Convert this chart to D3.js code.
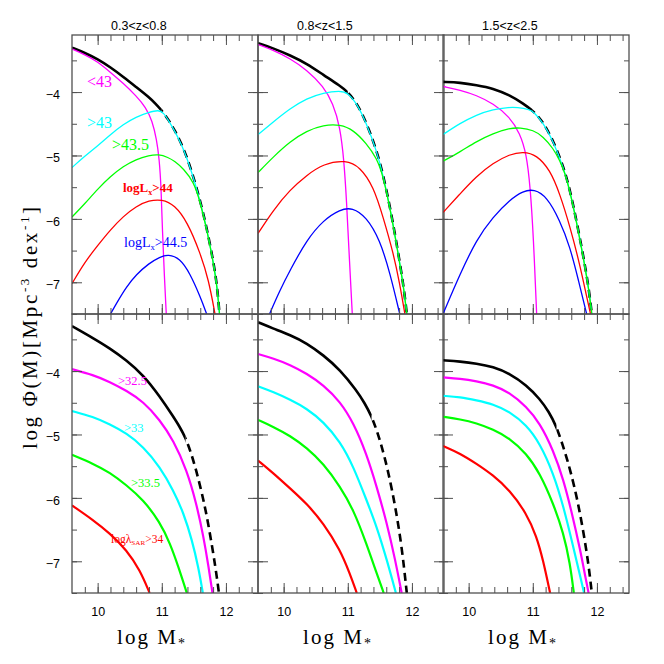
<!DOCTYPE html>
<html><head><meta charset="utf-8">
<script src="https://cdn.jsdelivr.net/npm/d3@7"></script>
<style>body{margin:0;background:#fff}</style></head>
<body><svg id="c" width="664" height="664"></svg>
<script>
// ---------- labels ----------
const zBins = ["0.3<z<0.8", "0.8<z<1.5", "1.5<z<2.5"];
const xTickLabels = [10, 11, 12];
const yTickLabels = [-4, -5, -6, -7];
const xDomain = [9.6, 12.5];
const yDomain = [-7.5, -3.1];

// ---------- top row: X-ray luminosity cuts ----------
const lxTot_z1 = [[9.6,-3.30],[9.8,-3.38],[10.0,-3.48],[10.2,-3.61],[10.4,-3.76],[10.6,-3.92],[10.8,-4.08],[10.9,-4.18],[11.0,-4.29],[11.1,-4.43],[11.2,-4.60],[11.3,-4.80],[11.4,-5.05],[11.5,-5.36],[11.6,-5.72],[11.7,-6.14],[11.8,-6.65],[11.86,-7.03],[11.9,-7.5]];
const lxLt43_z1 = [[9.6,-3.32],[9.8,-3.41],[10.0,-3.52],[10.2,-3.69],[10.4,-3.86],[10.6,-4.06],[10.75,-4.24],[10.85,-4.45],[10.92,-4.75],[10.96,-5.05],[10.99,-5.5],[11.01,-6.2],[11.04,-6.9],[11.07,-7.5]];
const lxGt43_z1 = [[9.6,-5.19],[9.8,-5.01],[10.0,-4.85],[10.2,-4.67],[10.4,-4.51],[10.6,-4.39],[10.8,-4.32],[10.95,-4.28],[11.03,-4.33],[11.1,-4.44],[11.2,-4.61],[11.3,-4.81],[11.4,-5.06],[11.5,-5.37],[11.6,-5.73],[11.7,-6.15],[11.8,-6.66],[11.86,-7.04],[11.9,-7.5]];
const lxGt435_z1 = [[9.6,-5.97],[9.8,-5.76],[10.0,-5.53],[10.2,-5.33],[10.4,-5.17],[10.6,-5.06],[10.8,-5.0],[10.95,-4.98],[11.1,-5.03],[11.2,-5.09],[11.34,-5.21],[11.5,-5.42],[11.6,-5.74],[11.7,-6.16],[11.8,-6.67],[11.86,-7.05],[11.9,-7.5]];
const lxGt44_z1 = [[9.6,-7.02],[9.8,-6.68],[10.0,-6.42],[10.2,-6.17],[10.4,-5.96],[10.6,-5.80],[10.8,-5.71],[11.0,-5.69],[11.2,-5.78],[11.4,-6.05],[11.6,-6.54],[11.73,-6.96],[11.83,-7.5]];
const lxGt445_z1 = [[10.2,-7.5],[10.3,-7.32],[10.45,-7.07],[10.6,-6.88],[10.8,-6.70],[10.97,-6.60],[11.1,-6.56],[11.28,-6.62],[11.44,-6.86],[11.6,-7.23],[11.7,-7.5]];

const lxTot_z2 = [[9.6,-3.23],[9.84,-3.31],[10.1,-3.42],[10.36,-3.55],[10.62,-3.73],[10.88,-3.90],[11.0,-4.00],[11.14,-4.17],[11.29,-4.48],[11.45,-4.92],[11.55,-5.30],[11.66,-5.82],[11.76,-6.38],[11.87,-7.05],[11.92,-7.5]];
const lxLt43_z2 = [[9.6,-3.25],[9.84,-3.34],[10.1,-3.47],[10.36,-3.65],[10.62,-3.91],[10.77,-4.18],[10.88,-4.55],[10.94,-5.07],[10.98,-5.70],[11.02,-6.54],[11.07,-7.5]];
const lxGt43_z2 = [[9.6,-4.67],[9.84,-4.47],[10.1,-4.26],[10.36,-4.10],[10.62,-4.01],[10.88,-3.98],[11.0,-4.01],[11.14,-4.18],[11.29,-4.49],[11.45,-4.93],[11.55,-5.31],[11.66,-5.83],[11.76,-6.39],[11.87,-7.06],[11.92,-7.5]];
const lxGt435_z2 = [[9.6,-5.27],[9.84,-5.02],[10.1,-4.78],[10.36,-4.61],[10.62,-4.52],[10.88,-4.51],[11.09,-4.60],[11.29,-4.81],[11.45,-5.04],[11.55,-5.32],[11.66,-5.84],[11.76,-6.40],[11.87,-7.07],[11.92,-7.5]];
const lxGt44_z2 = [[9.6,-6.23],[9.84,-5.86],[10.1,-5.54],[10.36,-5.31],[10.62,-5.13],[10.97,-5.07],[11.19,-5.18],[11.4,-5.49],[11.55,-5.97],[11.71,-6.54],[11.81,-7.02],[11.89,-7.5]];
const lxGt445_z2 = [[9.78,-7.5],[9.94,-7.13],[10.1,-6.81],[10.36,-6.33],[10.62,-6.02],[10.88,-5.85],[11.07,-5.82],[11.29,-5.97],[11.5,-6.33],[11.66,-6.86],[11.81,-7.5]];

const lxTot_z3 = [[9.6,-3.84],[9.87,-3.85],[10.12,-3.89],[10.38,-3.94],[10.64,-4.05],[10.85,-4.18],[11.01,-4.30],[11.16,-4.47],[11.32,-4.77],[11.48,-5.18],[11.58,-5.55],[11.68,-6.02],[11.79,-6.60],[11.87,-7.07],[11.92,-7.5]];
const lxLt43_z3 = [[9.6,-3.91],[9.87,-3.97],[10.12,-4.05],[10.38,-4.18],[10.64,-4.39],[10.8,-4.65],[10.9,-4.97],[10.96,-5.49],[11.01,-6.28],[11.06,-7.5]];
const lxGt43_z3 = [[9.6,-4.67],[9.87,-4.49],[10.12,-4.36],[10.38,-4.27],[10.64,-4.24],[10.75,-4.24],[10.96,-4.28],[11.01,-4.31],[11.16,-4.48],[11.32,-4.78],[11.48,-5.19],[11.58,-5.56],[11.68,-6.03],[11.79,-6.61],[11.87,-7.08],[11.92,-7.5]];
const lxGt435_z3 = [[9.6,-5.09],[9.87,-4.94],[10.12,-4.78],[10.38,-4.65],[10.64,-4.57],[10.8,-4.56],[11.01,-4.60],[11.16,-4.70],[11.32,-4.89],[11.42,-5.08],[11.5,-5.27],[11.58,-5.57],[11.68,-6.04],[11.79,-6.62],[11.87,-7.09],[11.92,-7.5]];
const lxGt44_z3 = [[9.6,-5.90],[9.87,-5.60],[10.12,-5.33],[10.38,-5.12],[10.64,-4.98],[10.85,-4.94],[11.06,-4.99],[11.27,-5.23],[11.42,-5.60],[11.58,-6.12],[11.74,-6.75],[11.84,-7.23],[11.9,-7.5]];
const lxGt445_z3 = [[9.6,-7.5],[9.87,-6.86],[10.12,-6.33],[10.38,-5.97],[10.64,-5.70],[10.85,-5.56],[11.02,-5.53],[11.22,-5.65],[11.42,-6.02],[11.58,-6.44],[11.71,-6.96],[11.84,-7.5]];

// ---------- bottom row: specific accretion rate cuts ----------
const sarTot_z1 = [[9.6,-3.29],[9.93,-3.48],[10.19,-3.64],[10.45,-3.83],[10.71,-4.06],[10.97,-4.40],[11.18,-4.72],[11.28,-4.88],[11.37,-5.05],[11.46,-5.30],[11.54,-5.58],[11.62,-5.90],[11.7,-6.27],[11.8,-6.85],[11.87,-7.33],[11.89,-7.5]];
const sarGt325_z1 = [[9.6,-3.97],[9.93,-4.06],[10.19,-4.17],[10.45,-4.31],[10.71,-4.48],[10.97,-4.77],[11.18,-5.09],[11.39,-5.56],[11.54,-6.09],[11.65,-6.61],[11.73,-7.09],[11.79,-7.5]];
const sarGt33_z1 = [[9.6,-4.63],[9.93,-4.72],[10.19,-4.84],[10.45,-4.98],[10.71,-5.19],[10.97,-5.51],[11.18,-5.88],[11.34,-6.24],[11.47,-6.66],[11.57,-7.09],[11.64,-7.5]];
const sarGt335_z1 = [[9.6,-5.32],[9.93,-5.46],[10.19,-5.60],[10.45,-5.80],[10.71,-6.03],[10.97,-6.38],[11.13,-6.72],[11.26,-7.09],[11.39,-7.5]];
const sarGt34_z1 = [[9.6,-6.12],[9.93,-6.35],[10.19,-6.56],[10.45,-6.82],[10.66,-7.14],[10.81,-7.5]];

const sarTot_z2 = [[9.6,-3.23],[9.84,-3.33],[10.1,-3.43],[10.36,-3.56],[10.62,-3.75],[10.88,-3.98],[11.14,-4.31],[11.26,-4.50],[11.37,-4.71],[11.45,-4.93],[11.53,-5.19],[11.63,-5.58],[11.74,-6.13],[11.84,-6.75],[11.92,-7.5]];
const sarGt325_z2 = [[9.6,-3.73],[9.84,-3.80],[10.1,-3.90],[10.36,-4.04],[10.62,-4.22],[10.88,-4.48],[11.09,-4.82],[11.29,-5.30],[11.45,-5.82],[11.61,-6.40],[11.74,-6.98],[11.84,-7.5]];
const sarGt33_z2 = [[9.6,-4.24],[9.84,-4.33],[10.1,-4.45],[10.36,-4.59],[10.62,-4.80],[10.88,-5.11],[11.09,-5.51],[11.29,-6.03],[11.45,-6.45],[11.61,-6.98],[11.75,-7.5]];
const sarGt335_z2 = [[9.6,-4.77],[9.84,-4.88],[10.1,-5.02],[10.36,-5.21],[10.62,-5.46],[10.88,-5.82],[11.09,-6.19],[11.29,-6.72],[11.45,-7.19],[11.56,-7.5]];
const sarGt34_z2 = [[9.6,-5.41],[9.84,-5.61],[10.1,-5.85],[10.36,-6.09],[10.62,-6.40],[10.88,-6.82],[11.03,-7.19],[11.14,-7.5]];

const sarTot_z3 = [[9.6,-3.83],[9.87,-3.85],[10.12,-3.88],[10.38,-3.93],[10.64,-4.04],[10.9,-4.22],[11.11,-4.44],[11.25,-4.64],[11.37,-4.87],[11.5,-5.27],[11.6,-5.62],[11.7,-6.05],[11.79,-6.54],[11.87,-7.05],[11.92,-7.5]];
const sarGt325_z3 = [[9.6,-4.10],[9.87,-4.12],[10.12,-4.16],[10.38,-4.22],[10.64,-4.34],[10.9,-4.56],[11.11,-4.82],[11.32,-5.25],[11.48,-5.72],[11.61,-6.24],[11.74,-6.82],[11.82,-7.25],[11.87,-7.5]];
const sarGt33_z3 = [[9.6,-4.39],[9.87,-4.41],[10.12,-4.46],[10.38,-4.52],[10.64,-4.64],[10.9,-4.85],[11.11,-5.14],[11.32,-5.61],[11.48,-6.14],[11.63,-6.77],[11.74,-7.24],[11.8,-7.5]];
const sarGt335_z3 = [[9.6,-4.72],[9.87,-4.76],[10.12,-4.82],[10.38,-4.92],[10.64,-5.06],[10.9,-5.30],[11.11,-5.61],[11.32,-6.09],[11.48,-6.56],[11.58,-7.03],[11.64,-7.5]];
const sarGt34_z3 = [[9.6,-5.18],[9.87,-5.30],[10.12,-5.46],[10.38,-5.64],[10.64,-5.88],[10.9,-6.24],[11.06,-6.61],[11.16,-6.98],[11.27,-7.5]];

const C = {mag:"#ff00ff", cyan:"#00ffff", green:"#00ff00", red:"#ff0000", blue:"#0000ff"};

const rows = [
  { split: 11.0, colW: 1.3, totals: [lxTot_z1, lxTot_z2, lxTot_z3],
    series: [
      {c:C.mag,   d:[lxLt43_z1, lxLt43_z2, lxLt43_z3]},
      {c:C.cyan,  d:[lxGt43_z1, lxGt43_z2, lxGt43_z3]},
      {c:C.green, d:[lxGt435_z1, lxGt435_z2, lxGt435_z3]},
      {c:C.red,   d:[lxGt44_z1, lxGt44_z2, lxGt44_z3]},
      {c:C.blue,  d:[lxGt445_z1, lxGt445_z2, lxGt445_z3]} ] },
  { split: 11.37, colW: 2.2, totals: [sarTot_z1, sarTot_z2, sarTot_z3],
    series: [
      {c:C.mag,   d:[sarGt325_z1, sarGt325_z2, sarGt325_z3]},
      {c:C.cyan,  d:[sarGt33_z1, sarGt33_z2, sarGt33_z3]},
      {c:C.green, d:[sarGt335_z1, sarGt335_z2, sarGt335_z3]},
      {c:C.red,   d:[sarGt34_z1, sarGt34_z2, sarGt34_z3]} ] }
];

// ---------- layout ----------
const svg = d3.select("#c");
const colX = [72, 258, 443], pw = 186;
const rowY = [35, 314], ph = 279;
const frameCol = "#505050";
const SANS = "'Liberation Sans', Arial, Helvetica, sans-serif";
const SERIF = "'Liberation Serif', 'Times New Roman', serif";

const minorX = d3.range(49, 63).map(i => i / 5);
const minorY = d3.range(-15, -6).map(i => i / 2);
const majorX = [10, 11, 12];
const majorY = [-7, -6, -5, -4];
const defs = svg.append("defs");

rows.forEach((row, r) => {
  colX.forEach((x0, c) => {
    const y0 = rowY[r];
    const x = d3.scaleLinear().domain(xDomain).range([x0, x0 + pw]);
    const y = d3.scaleLinear().domain(yDomain).range([y0 + ph, y0]);
    const id = `clip${r}${c}`;
    const xs = x(row.split);
    defs.append("clipPath").attr("id", id).append("rect")
      .attr("x", x0).attr("y", y0).attr("width", pw).attr("height", ph);
    defs.append("clipPath").attr("id", id + "a").append("rect")
      .attr("x", x0).attr("y", y0).attr("width", xs - x0).attr("height", ph);
    defs.append("clipPath").attr("id", id + "b").append("rect")
      .attr("x", xs).attr("y", y0).attr("width", x0 + pw - xs).attr("height", ph);
    const g = svg.append("g").attr("clip-path", `url(#${id})`);
    const line = d3.line().x(d => x(d[0])).y(d => y(d[1])).curve(d3.curveBasis);

    const tot = line(row.totals[c]);
    g.append("g").attr("clip-path", `url(#${id}b)`).append("path").attr("d", tot)
      .attr("fill", "none").attr("stroke", "#000").attr("stroke-width", 2.6)
      .attr("stroke-dasharray", "8,5");
    g.append("g").attr("clip-path", `url(#${id}a)`).append("path").attr("d", tot)
      .attr("fill", "none").attr("stroke", "#000").attr("stroke-width", 2.6);
    row.series.forEach(s => {
      g.append("path").attr("d", line(s.d[c])).attr("fill", "none")
        .attr("stroke", s.c).attr("stroke-width", row.colW);
    });

    // ticks (inward, all four sides)
    const tickGroups = [
      [d3.axisBottom(x), `translate(0,${y0 + ph})`, minorX, -6],
      [d3.axisBottom(x), `translate(0,${y0 + ph})`, majorX, -10],
      [d3.axisTop(x), `translate(0,${y0})`, minorX, -6],
      [d3.axisTop(x), `translate(0,${y0})`, majorX, -10],
      [d3.axisLeft(y), `translate(${x0},0)`, minorY, -5],
      [d3.axisLeft(y), `translate(${x0},0)`, majorY, -10],
      [d3.axisRight(y), `translate(${x0 + pw},0)`, minorY, -5],
      [d3.axisRight(y), `translate(${x0 + pw},0)`, majorY, -10]
    ];
    tickGroups.forEach(([ax, tr, vals, sz]) => {
      const ag = svg.append("g").attr("transform", tr)
        .call(ax.tickValues(vals).tickSize(sz).tickFormat(""));
      ag.select(".domain").remove();
      ag.selectAll("line").attr("stroke", frameCol).attr("stroke-width", 1);
    });

    svg.append("rect").attr("x", x0).attr("y", y0).attr("width", pw).attr("height", ph)
      .attr("fill", "none").attr("stroke", frameCol).attr("stroke-width", 1.3);

    if (r === 0) {
      svg.append("text").attr("x", x0 + 39).attr("y", 30)
        .attr("font-family", SANS).attr("font-size", 12.5).attr("fill", "#000")
        .text(zBins[c]);
    }
    if (r === 1) {
      const ax = svg.append("g").attr("transform", `translate(0,${y0 + ph})`)
        .call(d3.axisBottom(x).tickValues(xTickLabels).tickSize(0).tickPadding(14).tickFormat(d3.format("d")));
      ax.select(".domain").remove();
      ax.selectAll("text").attr("font-family", SANS).attr("font-size", 12.5).attr("fill", "#000");
      const t = svg.append("text").attr("x", x0 + 45).attr("y", 644)
        .attr("font-family", SERIF).attr("font-size", 21).attr("fill", "#000")
        .attr("textLength", 68).attr("lengthAdjust", "spacing");
      t.append("tspan").text("log M");
      t.append("tspan").attr("font-size", 14).attr("dy", 4).text("*");
    }
    if (c === 0) {
      const ay = svg.append("g").attr("transform", `translate(${x0},0)`)
        .call(d3.axisLeft(y).tickValues(yTickLabels).tickSize(0).tickPadding(12).tickFormat(d3.format("d")));
      ay.select(".domain").remove();
      ay.selectAll("text").attr("font-family", SANS).attr("font-size", 12.5).attr("fill", "#000").attr("dy", "0.5em");
    }
  });
});

// y axis title
const yt = svg.append("text").attr("transform", "translate(37,328) rotate(-90)")
  .attr("text-anchor", "middle").attr("font-family", SERIF).attr("font-size", 21).attr("fill", "#000")
  .attr("textLength", 242).attr("lengthAdjust", "spacing");
yt.append("tspan").text("log Φ(M)[Mpc");
yt.append("tspan").attr("font-size", 13).attr("dy", -8).text("-3");
yt.append("tspan").attr("dy", 8).text(" dex");
yt.append("tspan").attr("font-size", 13).attr("dy", -8).text("-1");
yt.append("tspan").attr("dy", 8).text("]");

// annotations
function note(x, yb, parts, color, size, bold) {
  const t = svg.append("text").attr("x", x).attr("y", yb).attr("fill", color)
    .attr("font-family", SERIF).attr("font-size", size)
    .attr("font-weight", bold ? "bold" : "normal");
  parts.forEach(p => {
    const s = t.append("tspan").text(p.t);
    if (p.dy) s.attr("dy", p.dy);
    if (p.small) s.attr("font-size", size * 0.62);
  });
}
note(87, 87, [{t:"<43"}], C.mag, 16);
note(87, 128, [{t:">43"}], C.cyan, 16);
note(112, 150, [{t:">43.5"}], C.green, 16);
note(123, 192, [{t:"logL"}, {t:"x", dy:3, small:true}, {t:">44", dy:-3}], C.red, 13, true);
note(124, 247, [{t:"logL"}, {t:"x", dy:3, small:true}, {t:">44.5", dy:-3}], C.blue, 14);
note(118, 385, [{t:">32.5"}], C.mag, 12.5);
note(124, 432, [{t:">33"}], C.cyan, 12.5);
note(131, 487, [{t:">33.5"}], C.green, 12.5);
note(111, 543, [{t:"logλ"}, {t:"SAR", dy:2, small:true}, {t:">34", dy:-2}], C.red, 11.5);
</script>
</body></html>
